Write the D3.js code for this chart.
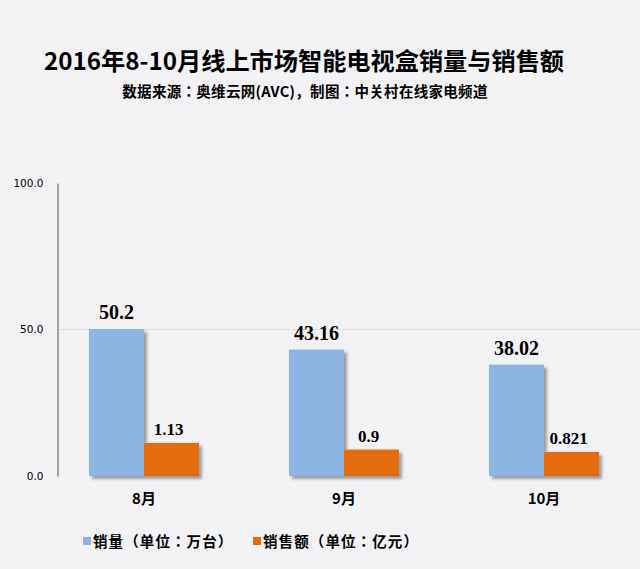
<!DOCTYPE html>
<html><head><meta charset="utf-8">
<script src="https://cdn.jsdelivr.net/npm/d3@7/dist/d3.min.js"></script>
<style>
html,body{margin:0;padding:0;background:#f2f2f5;}
svg{display:block;}
</style></head>
<body>
<script>
const months = ["8月", "9月", "10月"];
const salesVolume = [50.2, 43.16, 38.02];   // 万台
const salesAmount = [1.13, 0.9, 0.821];     // 亿元
const volumeLabels = ["50.2", "43.16", "38.02"];
const amountLabels = ["1.13", "0.9", "0.821"];
const yTicks = [0, 50, 100];
const title = "2016年8-10月线上市场智能电视盒销量与销售额";
const subtitle = "数据来源：奥维云网(AVC)，制图：中关村在线家电频道";
const legendNames = ["销量（单位：万台）", "销售额（单位：亿元）"];

const W = 640, H = 569;
const svg = d3.select("body").append("svg").attr("width", W).attr("height", H);
svg.append("rect").attr("width", W).attr("height", H).attr("fill", "#f2f2f5");

const defs = svg.append("defs");
const f = defs.append("filter").attr("id", "sh").attr("x", "-20%").attr("y", "-20%").attr("width", "150%").attr("height", "150%");
f.append("feDropShadow").attr("dx", 3).attr("dy", 3).attr("stdDeviation", 1.6)
  .attr("flood-color", "#000").attr("flood-opacity", 0.35);

const cjk = "'Noto Sans CJK SC','Noto Sans',sans-serif";
const cjkJP = "'Noto Sans CJK JP','Noto Sans CJK SC',sans-serif";

svg.append("text").attr("x", 304).attr("y", 70).attr("text-anchor", "middle")
  .attr("font-family", cjk).attr("font-weight", "bold").attr("font-size", 24.2)
  .attr("fill", "#000").text(title);
svg.append("text").attr("x", 305).attr("y", 97).attr("text-anchor", "middle")
  .attr("font-family", cjkJP).attr("font-weight", "bold").attr("font-size", 14.5)
  .attr("letter-spacing", 0.3)
  .attr("fill", "#000").text(subtitle);

const y = d3.scaleLinear().domain([0, 100]).range([476, 183]);
const y2 = d3.scaleLinear().domain([0, 10]).range([476, 183]);
const x = d3.scaleBand().domain(months).range([44, 644]).padding(0);
const bw = 55;

// gridline at 50
svg.append("g").selectAll("line").data(yTicks.filter(t => t > 0 && t < 100)).join("line")
  .attr("x1", 58).attr("x2", 640).attr("y1", d => y(d)).attr("y2", d => y(d))
  .attr("stroke", "#dcdce2").attr("stroke-width", 1);

// y axis
const yAxis = d3.axisLeft(y).tickValues(yTicks).tickFormat(d3.format(".1f")).tickSize(0).tickPadding(14);
const ga = svg.append("g").attr("transform", "translate(57.5,0)").call(yAxis);
ga.select(".domain").attr("stroke", "#8a8a8a").attr("stroke-width", 1.5);
ga.selectAll("text").attr("font-family", "'DejaVu Sans',Verdana,sans-serif").attr("font-size", 10.5).attr("fill", "#000");

// bars
const gb = svg.append("g").attr("filter", "url(#sh)");
gb.selectAll("rect.v").data(months).join("rect").attr("class", "v")
  .attr("x", (d) => x(d) + x.bandwidth() / 2 - bw)
  .attr("width", bw)
  .attr("y", (d, i) => y(salesVolume[i]))
  .attr("height", (d, i) => y(0) - y(salesVolume[i]))
  .attr("fill", "#8eb4e3");
gb.selectAll("rect.a").data(months).join("rect").attr("class", "a")
  .attr("x", (d) => x(d) + x.bandwidth() / 2)
  .attr("width", bw)
  .attr("y", (d, i) => y2(salesAmount[i]))
  .attr("height", (d, i) => y2(0) - y2(salesAmount[i]))
  .attr("fill", "#e46c0a");

// baseline
svg.append("line").attr("x1", 57).attr("x2", 626).attr("y1", 476.5).attr("y2", 476.5)
  .attr("stroke", "#8a8a8a").attr("stroke-width", 2).attr("filter", "url(#sh)");

// value labels
const serif = "'Liberation Serif','Times New Roman',serif";
svg.append("g").selectAll("text").data(months).join("text")
  .attr("x", d => x(d) + x.bandwidth() / 2 - bw / 2)
  .attr("y", (d, i) => y(salesVolume[i]) - 10)
  .attr("text-anchor", "middle").attr("font-family", serif).attr("font-weight", "bold")
  .attr("font-size", 20).attr("fill", "#000").text((d, i) => volumeLabels[i]);
svg.append("g").selectAll("text").data(months).join("text")
  .attr("x", d => x(d) + x.bandwidth() / 2 + bw / 2 - 3)
  .attr("y", (d, i) => y2(salesAmount[i]) - 8)
  .attr("text-anchor", "middle").attr("font-family", serif).attr("font-weight", "bold")
  .attr("font-size", 17).attr("fill", "#000").text((d, i) => amountLabels[i]);

// category labels
svg.append("g").selectAll("text").data(months).join("text")
  .attr("x", d => x(d) + x.bandwidth() / 2)
  .attr("y", 504)
  .attr("text-anchor", "middle").attr("font-family", cjk).attr("font-weight", "bold")
  .attr("font-size", 15).attr("fill", "#000").text(d => d);

// legend
const legendColors = ["#8eb4e3", "#e46c0a"];
const legendX = [83, 253];
const lg = svg.append("g");
legendNames.forEach((n, i) => {
  lg.append("rect").attr("x", legendX[i]).attr("y", 537).attr("width", 8).attr("height", 8).attr("fill", legendColors[i]);
  lg.append("text").attr("x", legendX[i] + 10).attr("y", 547)
    .attr("font-family", cjkJP).attr("font-weight", "bold").attr("font-size", 14.5)
    .attr("letter-spacing", 1.1)
    .attr("fill", "#000").text(n);
});
</script>
</body></html>
